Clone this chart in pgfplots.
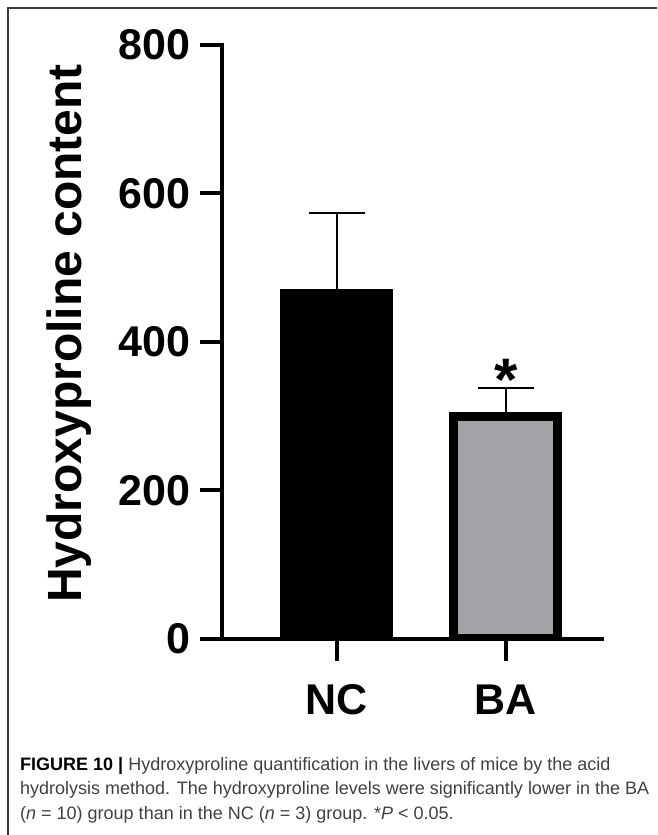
\documentclass[border=0pt]{standalone}
\usepackage{fontspec}
\setmainfont{Liberation Sans}
\usepackage{pgfplots}
\pgfplotsset{compat=1.18}
\definecolor{bagray}{RGB}{163,162,167}
\definecolor{framegray}{RGB}{60,60,60}
\definecolor{captxt}{RGB}{64,64,64}
\begin{document}
\begin{tikzpicture}[x=1pt,y=1pt]
\useasboundingbox (0,0) rectangle (657,835);
\draw[framegray, line width=1.5pt] (8,0) -- (8,827) -- (657,827);
\begin{axis}[
  at={(222pt,196pt)}, anchor=south west,
  scale only axis, width=380pt, height=594pt,
  xmin=-0.68, xmax=1.5686, ymin=0, ymax=800,
  axis x line*=bottom, axis y line*=left,
  axis line style={line width=4pt, black, line cap=rect},
  axis on top,
  xtick={0,1}, xticklabels={NC,BA},
  ytick={0,200,400,600,800},
  tick style={line width=4pt, black},
  major tick length=22pt, tick align=outside,
  ticklabel style={font=\fontsize{43}{43}\selectfont\bfseries},
  yticklabel style={xshift=-6pt},
  xticklabel style={yshift=-20pt},
  /pgf/number format/assume math mode=true,
]
\addplot[ybar, bar shift=0pt, bar width=104pt, fill=black, draw=black, line width=9pt,
  error bars/.cd, y dir=plus, y explicit,
  error bar style={line width=1.7pt, black},
  error mark options={rotate=90, mark size=28pt, line width=1.7pt, black}]
  coordinates {(0,465) +- (0,109)};
\addplot[ybar, bar shift=0pt, bar width=104pt, fill=bagray, draw=black, line width=9pt,
  error bars/.cd, y dir=plus, y explicit,
  error bar style={line width=1.7pt, black},
  error mark options={rotate=90, mark size=28pt, line width=1.7pt, black}]
  coordinates {(1,300) +- (0,38)};
\node[anchor=north, inner sep=0pt, font=\fontsize{60}{60}\selectfont\bfseries] at (axis cs:1,377) {*};
\end{axis}
\node[rotate=90, anchor=base, inner sep=0pt, font=\fontsize{48}{48}\selectfont\bfseries] at (81,501.5) {Hydroxyproline content};
\node[anchor=base west, inner sep=0pt, font=\fontsize{18}{18}\selectfont, text=captxt] at (20,64) {\textbf{\color{black}FIGURE 10 |} Hydroxyproline quantification in the livers of mice by the acid};
\node[anchor=base west, inner sep=0pt, font=\fontsize{18}{18}\selectfont, text=captxt] at (20,40) {hydrolysis method. The hydroxyproline levels were significantly lower in the BA};
\node[anchor=base west, inner sep=0pt, font=\fontsize{18}{18}\selectfont, text=captxt] at (20,16) {(\textit{n} = 10) group than in the NC (\textit{n} = 3) group. *\textit{P} < 0.05.};
\end{tikzpicture}
\end{document}
